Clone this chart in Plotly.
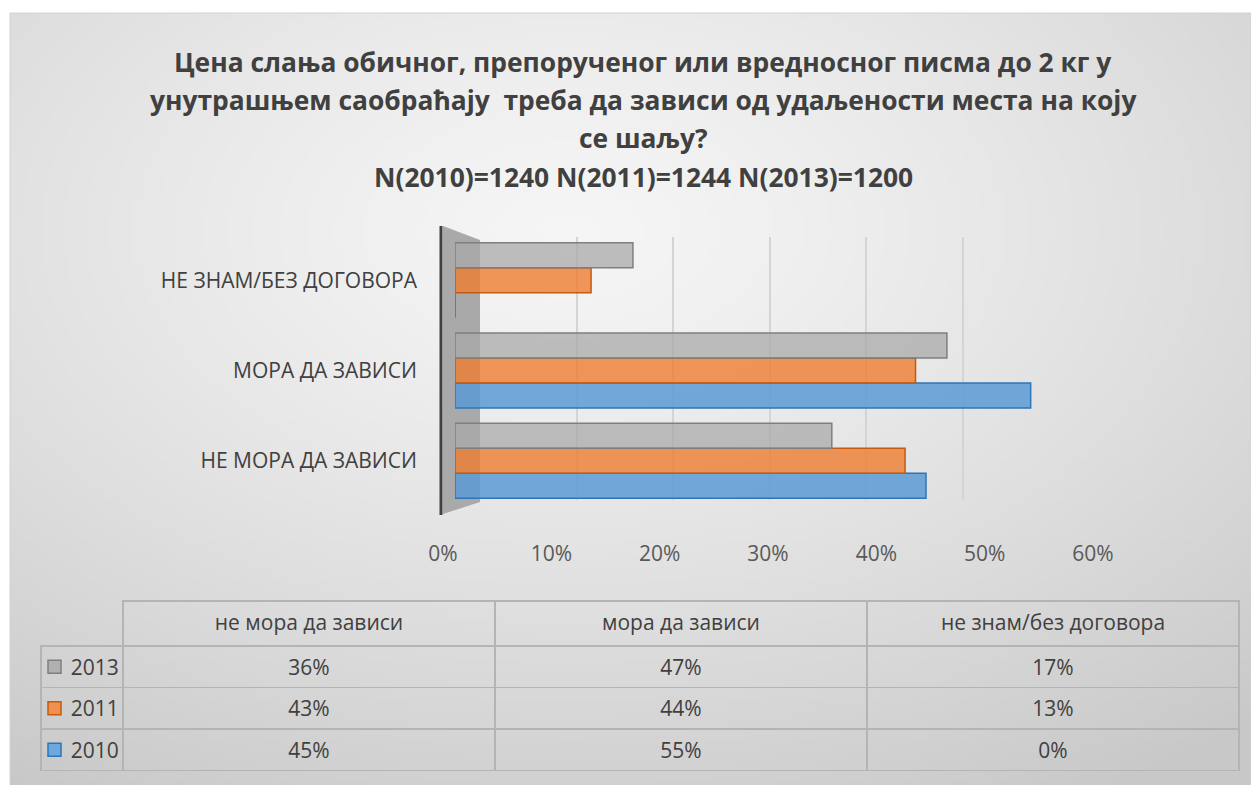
import base64
import struct
import zlib

import plotly.graph_objects as go

# ---------------- data ----------------
categories = ["НЕ МОРА ДА ЗАВИСИ", "МОРА ДА ЗАВИСИ", "НЕ ЗНАМ/БЕЗ ДОГОВОРА"]
table_headers = ["не мора да зависи", "мора да зависи", "не знам/без договора"]
years = ["2010", "2011", "2013"]
v2010 = [0.45, 0.55, 0.00]
v2011 = [0.43, 0.44, 0.13]
v2013 = [0.36, 0.47, 0.17]
x_ticks = [0, 0.1, 0.2, 0.3, 0.4, 0.5, 0.6]
title_lines = [
    "Цена слања обичног, препорученог или вредносног писма до 2 кг у",
    "унутрашњем саобраћају  треба да зависи од удаљености места на коју",
    "се шаљу?",
    "N(2010)=1240 N(2011)=1244 N(2013)=1200",
]

# ---------------- style ----------------
OFF = 8                      # page body margin in the browser
W, H = 1259 - 2 * OFF, 793 - 2 * OFF
FONT = "Open Sans"
TXT = "#404040"
fills = {"2010": "rgba(91,155,213,0.85)", "2011": "rgba(237,125,49,0.80)", "2013": "rgba(170,170,170,0.75)"}
lines = {"2010": "#2e75b6", "2011": "#c55a11", "2013": "#7f7f7f"}
legend_sq = {"2010": "#6fa8dc", "2011": "#f0904c", "2013": "#b0b0b0"}


def px_x(p):
    return (p - OFF) / W


def px_y(p):
    return 1 - (p - OFF) / H


# ---------- background gradient image (decorative) ----------
def gradient_png(w, h):
    cx, cy = 0.45, 0.28
    c0, c1 = 245, 200
    rows = []
    for j in range(h):
        row = bytearray([0])
        for i in range(w):
            dx = (i / (w - 1) - cx)
            dy = (j / (h - 1) - cy)
            d = (dx * dx + dy * dy) ** 0.5 / 0.85
            d = min(1.0, d)
            v = int(round(c0 + (c1 - c0) * d ** 1.3))
            row += bytes([v, v, v])
        rows.append(bytes(row))
    raw = b"".join(rows)

    def chunk(tag, data):
        c = struct.pack(">I", len(data)) + tag + data
        return c + struct.pack(">I", zlib.crc32(tag + data) & 0xFFFFFFFF)

    png = b"\x89PNG\r\n\x1a\n"
    png += chunk(b"IHDR", struct.pack(">IIBBBBB", w, h, 8, 2, 0, 0, 0))
    png += chunk(b"IDAT", zlib.compress(raw, 9))
    png += chunk(b"IEND", b"")
    return "data:image/png;base64," + base64.b64encode(png).decode()


bg = gradient_png(248, 155)

fig = go.Figure()

# helper trace so the back-wall grid subplot (drawn first, i.e. behind bars) exists
fig.add_trace(go.Scatter(x=[None], y=[None], mode="markers", xaxis="x", yaxis="y",
                         showlegend=False, hoverinfo="skip"))

series = [("2010", v2010), ("2011", v2011), ("2013", v2013)]
for name, vals in series:
    fig.add_trace(go.Bar(
        y=categories, x=vals, name=name, orientation="h",
        marker=dict(color=fills[name], line=dict(color=lines[name], width=1.5)),
        xaxis="x2", yaxis="y2", showlegend=False, hoverinfo="x+name",
    ))

# helper trace for the perspective tick-label axis
fig.add_trace(go.Scatter(x=[None], y=[None], mode="markers", xaxis="x3", yaxis="y3",
                         showlegend=False, hoverinfo="skip"))

# data table
TABLE_TOP, HEADER_H, ROW_H = 601, 45, 41.5
TEXT_SHIFT = 5
row_order = [("2013", v2013), ("2011", v2011), ("2010", v2010)]
first_col = ["\u00a0\u00a0\u00a0\u00a0" + n for n, _ in row_order]
col_vals = [first_col]
for k in range(len(categories)):
    col_vals.append([f"{vals[k] * 100:.0f}%" for _, vals in row_order])

border = "#b4b4b4"
clear = "rgba(0,0,0,0)"
table_bottom = TABLE_TOP + HEADER_H + ROW_H * len(row_order)
# grid of the table
fig.add_trace(go.Table(
    domain=dict(x=[px_x(41), px_x(1239)], y=[px_y(table_bottom + 2), px_y(TABLE_TOP)]),
    columnwidth=[82, 372, 372, 372],
    header=dict(values=[""] * 4, fill=dict(color=clear),
                line=dict(color=[clear, border, border, border], width=1.5),
                height=HEADER_H),
    cells=dict(values=[[""] * 3] * 4, fill=dict(color=clear),
               line=dict(color=border, width=1.5), height=ROW_H),
    hoverinfo="skip",
))
# text of the table (shifted slightly down to centre it in the cells)
fig.add_trace(go.Table(
    domain=dict(x=[px_x(41), px_x(1239)],
                y=[px_y(table_bottom + 2 + TEXT_SHIFT), px_y(TABLE_TOP + TEXT_SHIFT)]),
    columnwidth=[82, 372, 372, 372],
    header=dict(
        values=[""] + table_headers,
        fill=dict(color=clear), line=dict(color=clear, width=0),
        font=dict(family=FONT, size=21, color=TXT),
        align="center", height=HEADER_H,
    ),
    cells=dict(
        values=col_vals,
        fill=dict(color=clear), line=dict(color=clear, width=0),
        font=dict(family=FONT, size=21, color=TXT),
        align=["left", "center", "center", "center"], height=ROW_H,
    ),
))

annotations = []
title_y = [62, 100, 138, 177]
for t, yy in zip(title_lines, title_y):
    annotations.append(dict(
        text=f"<b>{t}</b>", x=px_x(643), y=px_y(yy), xref="paper", yref="paper",
        xanchor="center", yanchor="middle", showarrow=False,
        font=dict(family=FONT, size=26.4, color=TXT),
    ))

shapes = [
    # chart border
    dict(type="rect", xref="paper", yref="paper", x0=px_x(10), x1=px_x(1251),
         y0=px_y(787), y1=px_y(13), line=dict(color="#d2d2d2", width=1), layer="below"),
    # side wall (3-D depth illusion)
    dict(type="path", xref="paper", yref="paper",
         path=f"M {px_x(443)} {px_y(226)} L {px_x(480)} {px_y(240)} L {px_x(480)} {px_y(502)} L {px_x(443)} {px_y(514)} Z",
         fillcolor="#a9a9a9", line=dict(width=0), layer="below"),
    dict(type="line", xref="paper", yref="paper", x0=px_x(441), x1=px_x(441),
         y0=px_y(226), y1=px_y(515), line=dict(color="#404040", width=3)),
]
# legend keys inside the table's first column
for i, (n, _) in enumerate(row_order):
    yc = TABLE_TOP + HEADER_H + ROW_H * (i + 0.5)
    shapes.append(dict(type="rect", xref="paper", yref="paper",
                       x0=px_x(48), x1=px_x(61), y0=px_y(yc + 6.5), y1=px_y(yc - 6.5),
                       fillcolor=legend_sq[n], line=dict(color=lines[n], width=1.5)))

fig.update_layout(
    width=W, height=H,
    margin=dict(l=0, r=0, t=0, b=0),
    paper_bgcolor="white", plot_bgcolor="rgba(0,0,0,0)",
    font=dict(family=FONT, color=TXT),
    barmode="group", bargap=0.17, bargroupgap=0.0,
    images=[dict(source=bg, xref="paper", yref="paper", x=px_x(10), y=px_y(13),
                 sizex=(1251 - 10) / W, sizey=(787 - 13) / H, xanchor="left", yanchor="top",
                 sizing="stretch", layer="below")],
    annotations=annotations,
    shapes=shapes,
    # back-wall gridlines
    xaxis=dict(domain=[px_x(480), px_x(1059)], range=[0, 0.6], tickvals=x_ticks,
               showgrid=True, gridcolor="#d4d4d4", gridwidth=1.5, showticklabels=False,
               zeroline=False, showline=False, anchor="y", automargin=False),
    yaxis=dict(domain=[px_y(500), px_y(237)], range=[0, 1], showgrid=False,
               showticklabels=False, zeroline=False, anchor="x", automargin=False),
    # bars (front plane)
    xaxis2=dict(domain=[px_x(455), px_x(1083)], range=[0, 0.6], showgrid=False,
                showticklabels=False, zeroline=False, showline=False, anchor="y2",
                automargin=False),
    yaxis2=dict(domain=[px_y(506), px_y(235)], range=[-0.5, 2.5], showgrid=False,
                zeroline=False, showline=False, anchor="x2", automargin=False,
                tickfont=dict(family=FONT, size=21, color=TXT), ticklabelstandoff=37),
    # perspective tick labels
    xaxis3=dict(domain=[px_x(443), px_x(1093)], range=[0, 0.6], tickvals=x_ticks,
                tickformat=".0%", showgrid=False, zeroline=False, showline=False,
                anchor="y3", automargin=False, ticklabelstandoff=33,
                tickfont=dict(family=FONT, size=21, color="#595959")),
    yaxis3=dict(domain=[px_y(506), px_y(235)], range=[0, 1], showgrid=False,
                showticklabels=False, zeroline=False, anchor="x3", automargin=False),
)

fig.write_html("out.html")
